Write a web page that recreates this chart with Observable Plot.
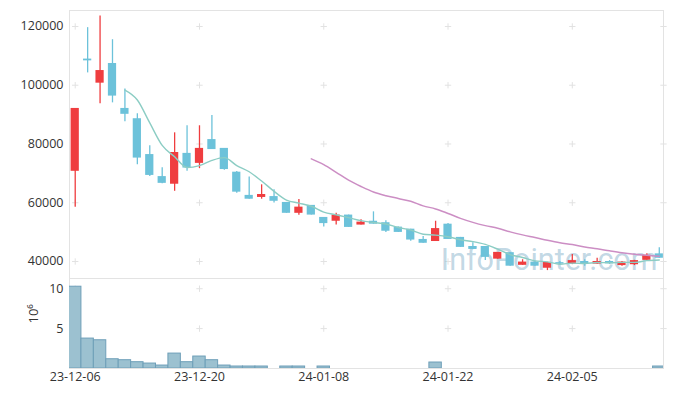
<!DOCTYPE html>
<html><head><meta charset="utf-8">
<script src="https://cdn.jsdelivr.net/npm/d3@7"></script>
<script src="https://cdn.jsdelivr.net/npm/@observablehq/plot@0.6"></script>
<style>
body{margin:0;background:#fff;}
#chart{width:673px;}
#chart svg{display:block;}
</style></head><body><div id="chart"></div>
<script>
const dates = ["23-12-06","23-12-07","23-12-08","23-12-11","23-12-12","23-12-13","23-12-14","23-12-15","23-12-18","23-12-19","23-12-20","23-12-21","23-12-22","23-12-26","23-12-27","23-12-28","24-01-02","24-01-03","24-01-04","24-01-05","24-01-08","24-01-09","24-01-10","24-01-11","24-01-12","24-01-15","24-01-16","24-01-17","24-01-18","24-01-19","24-01-22","24-01-23","24-01-24","24-01-25","24-01-26","24-01-29","24-01-30","24-01-31","24-02-01","24-02-02","24-02-05","24-02-06","24-02-07","24-02-08","24-02-13","24-02-14","24-02-15","24-02-16"];
const open  = [70700,108900,100700,107400,92100,88600,76400,68900,66300,76800,73400,81500,78500,70400,62500,61800,62100,60100,56400,59100,55000,53700,55800,52400,53700,53200,51700,51000,47500,46800,52700,48200,45100,45100,40800,43000,38700,39800,37700,39600,39100,40000,39100,40000,38600,38900,40400,42600];
const high  = [92100,119600,123600,115500,98700,90300,79400,71900,83800,86200,86200,89700,78500,70600,68800,66100,64400,60100,61100,59100,55000,56400,55800,54200,56900,53900,51700,51000,48500,53700,52900,48200,46400,45100,43100,43000,40600,40100,39700,40000,42400,40600,41100,40300,40000,40400,42600,44700];
const low   = [58500,104200,93700,94000,87600,72900,68900,66500,63900,70700,71600,78100,71100,63200,61200,61200,59900,56400,55700,55800,51700,52400,51600,52400,52700,49900,49900,46900,46200,46800,47500,44800,44100,40300,40800,38400,38700,38400,36900,38800,39100,38400,39100,39000,38400,38600,40400,41100];
const close = [92100,108300,105000,96300,90100,75200,69300,66600,77100,71800,78500,78100,71300,63600,61200,62800,60500,56400,58500,55800,52900,55800,51600,53400,52700,50300,49900,47300,46200,51200,47500,44800,44100,41400,43100,38400,39800,38400,39700,39100,40300,39200,40000,39200,39800,40300,42100,41100];
const volume = [10.25,3.75,3.54,1.16,1.04,0.79,0.62,0.37,1.87,0.79,1.5,1.04,0.37,0.25,0.25,0.25,0,0.25,0.25,0,0.25,0,0,0,0,0,0,0,0,0.75,0,0,0,0,0,0,0,0,0,0,0,0,0,0,0,0,0,0.25];
const priceTicks = [40000,60000,80000,100000,120000];
const volumeTicks = [5,10];
const dateTicks = ["23-12-06","23-12-20","24-01-08","24-01-22","24-02-05"];

const rows = dates.map((d,i)=>({date:d, open:open[i], high:high[i], low:low[i], close:close[i], volume:volume[i], up: close[i] >= open[i]}));
const RED = "#ef3d3f", BLUE = "#6cc2da";
const FONT = "'Open Sans', sans-serif";
const xBase = {type:"band", domain:dates, range:[68.5,665], padding:0, round:false};
const style = {fontFamily:FONT, fontSize:"12.5px", color:"#333", background:"#fff", overflow:"visible"};
const crossMain = dateTicks.flatMap(d => priceTicks.map(v => ({date:d, v})));
const crossVol = dateTicks.flatMap(d => volumeTicks.map(v => ({date:d, v})));
const CROSS = {symbol:"plus", r:2.2, stroke:"#e2e2e2", strokeWidth:1};

const main = Plot.plot({
  width:673, height:278, marginTop:10, marginBottom:0, marginLeft:69, marginRight:10,
  style,
  color:{type:"identity"},
  x:{...xBase, axis:null},
  y:{domain:[34210,125440], ticks:priceTicks, tickFormat:d=>String(d), tickSize:0, tickPadding:6, label:null},
  marks:[
    Plot.frame({stroke:"#e3e3e3"}),
    Plot.dot(crossMain, {x:"date", y:"v", ...CROSS}),
    Plot.dot(priceTicks, {y:d=>d, frameAnchor:"right", ...CROSS}),
    Plot.text(["InfoPointer.com"], {frameAnchor:"bottom-right", text:d=>d, textAnchor:"end", lineAnchor:"bottom", dx:-6, dy:-9, fontSize:30.5, fontFamily:"Roboto", fill:"#9fc3d6", fillOpacity:0.65}),
    Plot.ruleX(rows, {x:"date", y1:"low", y2:"high", stroke:d=>d.up?RED:BLUE, strokeWidth:1.3, clip:true}),
    Plot.barY(rows, {x:"date", y1:"open", y2:"close", fill:d=>d.up?RED:BLUE, insetLeft:2.1, insetRight:2.1, clip:true}),
    Plot.lineY(rows, Plot.windowY({k:5, anchor:"end", strict:true}, {x:"date", y:"close", stroke:"#8ccdc4", strokeWidth:1.4, curve:"monotone-x", clip:true})),
    Plot.lineY(rows, Plot.windowY({k:20, anchor:"end", strict:true}, {x:"date", y:"close", stroke:"#cc8ec4", strokeWidth:1.5, curve:"monotone-x", clip:true}))
  ]
});

const vol = Plot.plot({
  width:673, height:118, marginTop:0, marginBottom:28, marginLeft:69, marginRight:10,
  style,
  x:{...xBase, ticks:dateTicks, tickSize:0, tickPadding:4, label:null},
  y:{domain:[0,11.28], ticks:volumeTicks, tickSize:0, tickPadding:6, label:null},
  marks:[
    Plot.frame({stroke:"#e3e3e3"}),
    Plot.dot(crossVol, {x:"date", y:"v", ...CROSS}),
    Plot.dot(volumeTicks, {y:d=>d, frameAnchor:"right", ...CROSS}),
    Plot.barY(rows, {x:"date", y:"volume", fill:"#9cc1d0", stroke:"#6e9fb8", strokeWidth:1, clip:true}),
    Plot.text(["10⁶"], {frameAnchor:"left", text:d=>d, rotate:-90, dx:-36, fontSize:13, fill:"#333"})
  ]
});

const chart = document.getElementById("chart");
chart.appendChild(main);
chart.appendChild(vol);
</script></body></html>
